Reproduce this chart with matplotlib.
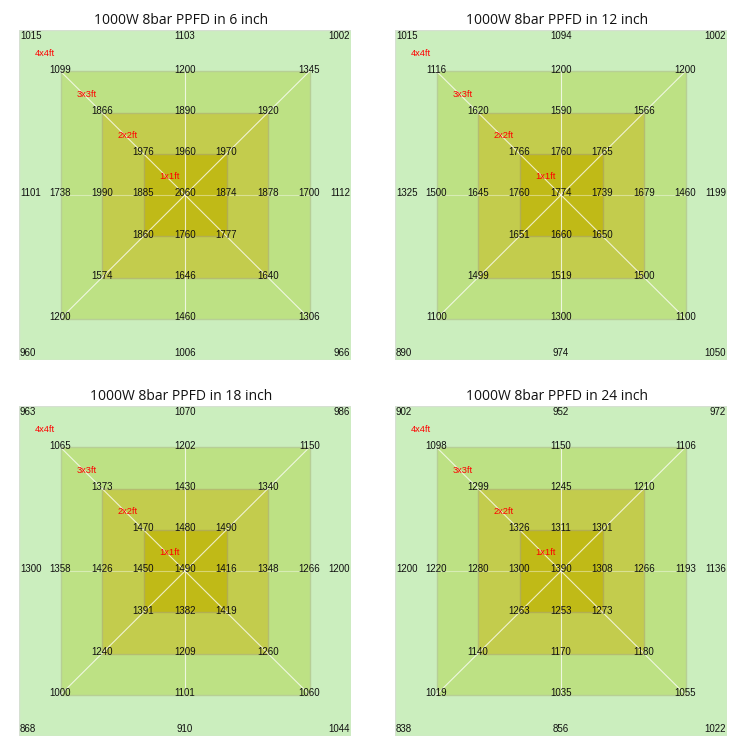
import matplotlib.pyplot as plt
from matplotlib import font_manager
from matplotlib.patches import Rectangle

# PPFD readings, row by row from top to bottom (y = 2 ... -2)
# rows with 3 values sit at x = -h, 0, h ; the middle row has 9 values at x = -2..2
heights = [6, 12, 18, 24]

ppfd_6in = [
    [1015, 1103, 1002],
    [1099, 1200, 1345],
    [1866, 1890, 1920],
    [1976, 1960, 1970],
    [1101, 1738, 1990, 1885, 2060, 1874, 1878, 1700, 1112],
    [1860, 1760, 1777],
    [1574, 1646, 1640],
    [1200, 1460, 1306],
    [960, 1006, 966],
]
ppfd_12in = [
    [1015, 1094, 1002],
    [1116, 1200, 1200],
    [1620, 1590, 1566],
    [1766, 1760, 1765],
    [1325, 1500, 1645, 1760, 1774, 1739, 1679, 1460, 1199],
    [1651, 1660, 1650],
    [1499, 1519, 1500],
    [1100, 1300, 1100],
    [890, 974, 1050],
]
ppfd_18in = [
    [963, 1070, 986],
    [1065, 1202, 1150],
    [1373, 1430, 1340],
    [1470, 1480, 1490],
    [1300, 1358, 1426, 1450, 1490, 1416, 1348, 1266, 1200],
    [1391, 1382, 1419],
    [1240, 1209, 1260],
    [1000, 1101, 1060],
    [868, 910, 1044],
]
ppfd_24in = [
    [902, 952, 972],
    [1098, 1150, 1106],
    [1299, 1245, 1210],
    [1326, 1311, 1301],
    [1200, 1220, 1280, 1300, 1390, 1308, 1266, 1193, 1136],
    [1263, 1253, 1273],
    [1140, 1170, 1180],
    [1019, 1035, 1055],
    [838, 856, 1022],
]
panels = [ppfd_6in, ppfd_12in, ppfd_18in, ppfd_24in]

area_labels = ['4x4ft', '3x3ft', '2x2ft', '1x1ft']
half_sizes = [2.0, 1.5, 1.0, 0.5]
fill_colors = ['#cbeebe', '#bde184', '#c3cc4d', '#c0ba17']
edge_colors = ['#d6e0d2', '#b7cf96', '#b4bd70', '#b2ae52']

row_y = [2, 1.5, 1, 0.5, 0, -0.5, -1, -1.5, -2]

# narrow font if there is one, otherwise plain Liberation Sans
installed = {f.name for f in font_manager.fontManager.ttflist}
if 'Liberation Sans Narrow' in installed:
    num_font, num_size = ['Liberation Sans Narrow', 'DejaVu Sans'], 8.3
else:
    num_font, num_size = ['Liberation Sans', 'DejaVu Sans'], 7.0
title_font = ['Open Sans', 'DejaVu Sans']

fig = plt.figure(figsize=(7.5, 7.5), dpi=100)

# axes boxes in pixels: left, top of outer square
origins = [(19, 30), (395, 30), (19, 406), (395, 406)]
box_w, box_h = 332, 330

for data, h, (px, py) in zip(panels, heights, origins):
    ax = fig.add_axes([px / 750, 1 - (py + box_h) / 750, box_w / 750, box_h / 750])
    ax.set_xlim(-2, 2)
    ax.set_ylim(-2, 2)
    ax.axis('off')

    for s, fc, ec in zip(half_sizes, fill_colors, edge_colors):
        ax.add_patch(Rectangle((-s, -s), 2 * s, 2 * s, facecolor=fc,
                               edgecolor=ec, linewidth=1.0, zorder=1))

    lc = dict(color='white', linewidth=0.8, alpha=0.75, zorder=2)
    ax.plot([-1.5, 1.5], [1.5, -1.5], **lc)
    ax.plot([-1.5, 1.5], [-1.5, 1.5], **lc)
    ax.plot([0, 0], [-1.5, 1.5], **lc)
    ax.plot([-1.5, 1.5], [0, 0], color='white', linewidth=0.8, alpha=0.4, zorder=2)

    for y, row in zip(row_y, data):
        if len(row) == 9:
            xs = [-2, -1.5, -1, -0.5, 0, 0.5, 1, 1.5, 2]
        else:
            a = abs(y)
            xs = [-a, 0, a]
        for x, v in zip(xs, row):
            ha, va, dx, dy = 'center', 'center', 0, 0
            if x == -2:
                ha, dx = 'left', 0.01
            elif x == 2:
                ha, dx = 'right', -0.01
            if y == 2:
                va, dy = 'top', -0.015
            elif y == -2:
                va, dy = 'bottom', 0.02
            ax.text(x + dx, y + dy + (0.02 if va == 'center' else 0), str(v),
                    ha=ha, va=va, fontsize=num_size, family=num_font,
                    color='#111111', zorder=3)

    for s, lab in zip(half_sizes, area_labels):
        ax.text(-(s - 0.31), s - 0.28, lab, ha='center', va='center',
                fontsize=num_size - 0.3, family=num_font, color='red', zorder=3)

    fig.text((px + box_w / 2 - 4) / 750, 1 - (py - 10) / 750,
             f'1000W 8bar PPFD in {h} inch', ha='center', va='center',
             fontsize=10, family=title_font, color='#111111')

fig.savefig('out.png', dpi=100, facecolor='white')
